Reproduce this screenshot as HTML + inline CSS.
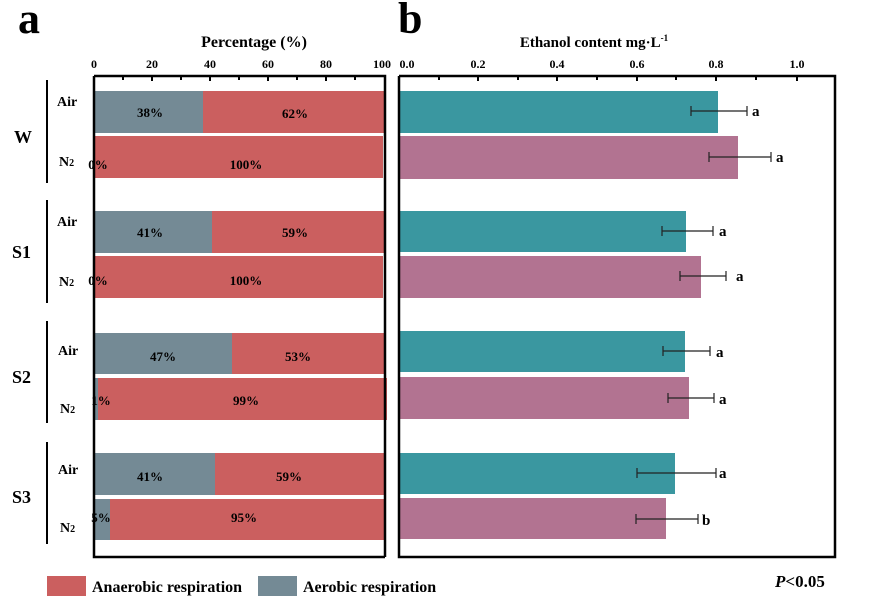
<!DOCTYPE html>
<html><head><meta charset="utf-8"><style>
html,body{margin:0;padding:0;background:#fff;}
svg{display:block;font-family:"Liberation Serif",serif;font-weight:bold;}
</style></head><body>
<svg width="869" height="603" viewBox="0 0 869 603" xmlns="http://www.w3.org/2000/svg">
<text x="18" y="33" font-size="44">a</text>
<text x="398" y="33" font-size="44">b</text>
<text x="254" y="47" font-size="16" text-anchor="middle">Percentage (%)</text>
<text x="594" y="47" font-size="15" text-anchor="middle">Ethanol content mg·L<tspan font-size="9" dy="-6">-1</tspan></text>
<g font-size="12" text-anchor="middle">
<text x="94" y="68">0</text><text x="152" y="68">20</text><text x="210" y="68">40</text><text x="268" y="68">60</text><text x="326" y="68">80</text><text x="382" y="68">100</text>
<text x="407" y="68">0.0</text><text x="478" y="68">0.2</text><text x="557" y="68">0.4</text><text x="637" y="68">0.6</text><text x="716" y="68">0.8</text><text x="797" y="68">1.0</text>
</g>
<g>
<rect x="95" y="91" width="108" height="42" fill="#748a95"/><rect x="203" y="91" width="181" height="42" fill="#cb5f5f"/>
<rect x="95" y="136" width="288" height="42" fill="#cb5f5f"/>
<rect x="95" y="211" width="117" height="42" fill="#748a95"/><rect x="212" y="211" width="172" height="42" fill="#cb5f5f"/>
<rect x="95" y="256" width="288" height="42" fill="#cb5f5f"/>
<rect x="95" y="333" width="137" height="41" fill="#748a95"/><rect x="232" y="333" width="152" height="41" fill="#cb5f5f"/>
<rect x="95" y="378" width="3" height="42" fill="#748a95"/><rect x="98" y="378" width="289" height="42" fill="#cb5f5f"/>
<rect x="95" y="453" width="120" height="42" fill="#748a95"/><rect x="215" y="453" width="169" height="42" fill="#cb5f5f"/>
<rect x="95" y="499" width="15" height="41" fill="#748a95"/><rect x="110" y="499" width="274" height="41" fill="#cb5f5f"/>
</g>
<g font-size="13" text-anchor="middle">
<text x="150" y="117">38%</text><text x="295" y="118">62%</text>
<text x="98" y="169">0%</text><text x="246" y="169">100%</text>
<text x="150" y="237">41%</text><text x="295" y="237">59%</text>
<text x="98" y="285">0%</text><text x="246" y="285">100%</text>
<text x="163" y="361">47%</text><text x="298" y="361">53%</text>
<text x="101" y="405">1%</text><text x="246" y="405">99%</text>
<text x="150" y="481">41%</text><text x="289" y="481">59%</text>
<text x="101" y="522">5%</text><text x="244" y="522">95%</text>
</g>
<g stroke="#000" fill="none">
<path d="M94,76 H385 V557 M94,76 V557 H385" stroke-width="2.5"/>
<g stroke-width="2">
<path d="M94,76v5M123,76v4M152,76v5M181,76v4M210,76v5M239,76v4M268,76v5M297,76v4M326,76v5M355,76v4"/>
</g>
<path d="M47,80V183M47,200V303M47,321V423M47,442V544" stroke-width="2"/>
</g>
<g font-size="14">
<text x="57" y="106">Air</text><text x="59" y="166">N<tspan font-size="10">2</tspan></text>
<text x="57" y="226">Air</text><text x="59" y="286">N<tspan font-size="10">2</tspan></text>
<text x="58" y="355">Air</text><text x="60" y="413">N<tspan font-size="10">2</tspan></text>
<text x="58" y="474">Air</text><text x="60" y="532">N<tspan font-size="10">2</tspan></text>
</g>
<g font-size="18">
<text x="14" y="143">W</text><text x="12" y="258">S1</text><text x="12" y="383">S2</text><text x="12" y="503">S3</text>
</g>
<g>
<rect x="399" y="91" width="319" height="42" fill="#3a97a0"/>
<rect x="399" y="136" width="339" height="43" fill="#b27391"/>
<rect x="399" y="211" width="287" height="41" fill="#3a97a0"/>
<rect x="399" y="256" width="302" height="42" fill="#b27391"/>
<rect x="399" y="331" width="286" height="41" fill="#3a97a0"/>
<rect x="399" y="377" width="290" height="42" fill="#b27391"/>
<rect x="399" y="453" width="276" height="41" fill="#3a97a0"/>
<rect x="399" y="498" width="267" height="41" fill="#b27391"/>
</g>
<g stroke="#222" stroke-width="1.2">
<path d="M691,111H747M691,106v10M747,106v10"/>
<path d="M709,157H771M709,152v10M771,152v10"/>
<path d="M662,231H713M662,226v10M713,226v10"/>
<path d="M680,276H726M680,271v10M726,271v10"/>
<path d="M663,351H710M663,346v10M710,346v10"/>
<path d="M668,398H714M668,393v10M714,393v10"/>
<path d="M637,473H716M637,468v10M716,468v10"/>
<path d="M636,519H698M636,514v10M698,514v10"/>
</g>
<g font-size="15">
<text x="752" y="116">a</text><text x="776" y="162">a</text>
<text x="719" y="236">a</text><text x="736" y="281">a</text>
<text x="716" y="357">a</text><text x="719" y="404">a</text>
<text x="719" y="478">a</text><text x="702" y="525">b</text>
</g>
<g stroke="#000" fill="none">
<path d="M399,76V557H835V76H399" stroke-width="2.5"/>
<g stroke-width="2">
<path d="M439,76v4M478,76v5M518,76v4M557,76v5M597,76v4M637,76v5M676,76v4M716,76v5M756,76v4M797,76v5"/>
</g>
</g>
<rect x="47" y="576" width="39" height="20" fill="#cb5f5f"/>
<text x="92" y="592" font-size="16">Anaerobic respiration</text>
<rect x="258" y="576" width="39" height="20" fill="#748a95"/>
<text x="303" y="592" font-size="16">Aerobic respiration</text>
<text x="775" y="587" font-size="17"><tspan font-style="italic">P</tspan>&lt;0.05</text>
</svg>
</body></html>
